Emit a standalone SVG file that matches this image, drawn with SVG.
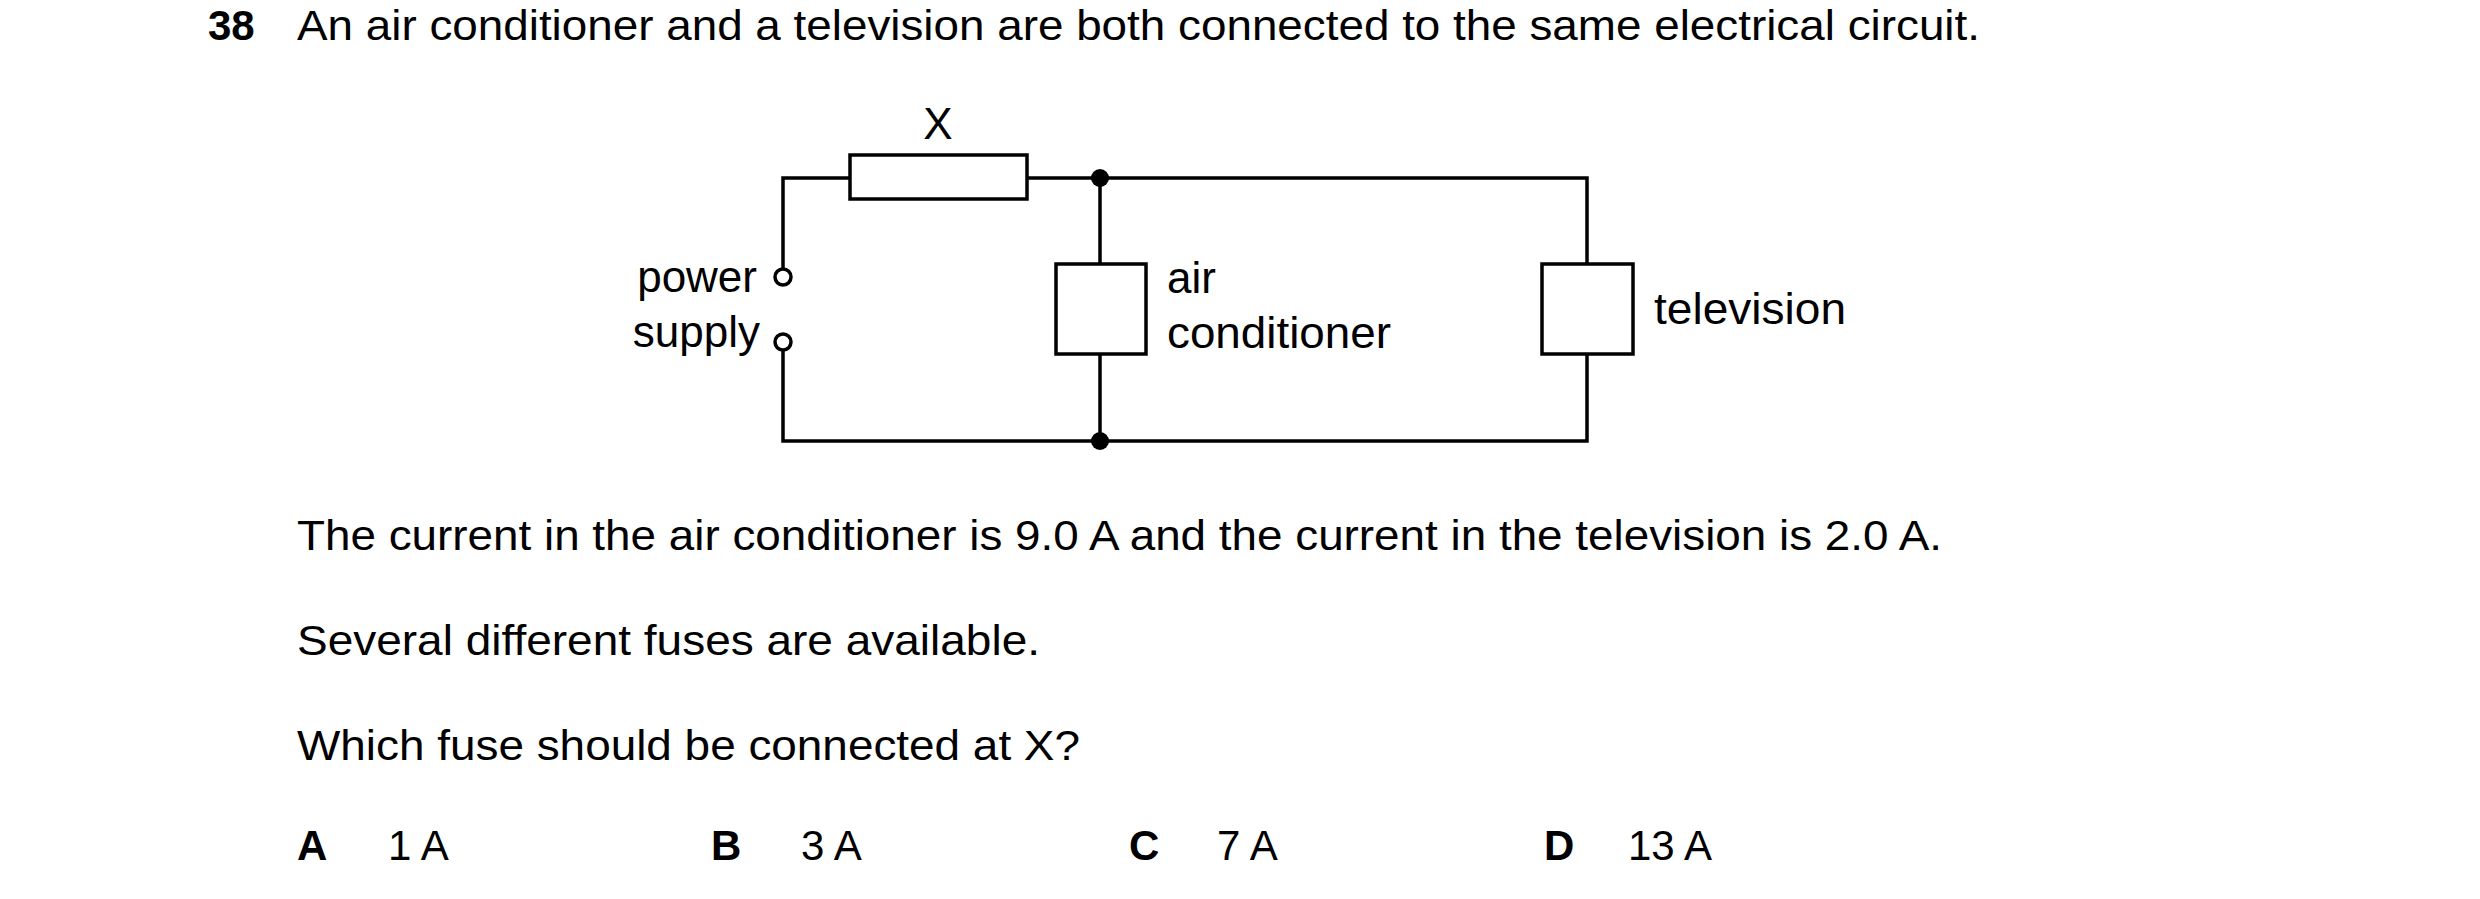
<svg xmlns="http://www.w3.org/2000/svg" width="2480" height="899" viewBox="0 0 2480 899">
<style>
text{font-family:"Liberation Sans",Arial,sans-serif;font-size:42px;fill:#000}
.l{font-size:44px}
.b{font-weight:bold}
.w{stroke:#000;stroke-width:3.5;fill:none}
.box{stroke:#000;stroke-width:3.5;fill:#fff}
</style>
<rect width="2480" height="899" fill="#fff"/>
<text class="b" x="208" y="40">38</text>
<text x="297" y="40" textLength="1683" lengthAdjust="spacingAndGlyphs">An air conditioner and a television are both connected to the same electrical circuit.</text>
<g id="connectors">
<path class="w" d="M783 268 V178 H1587 V264 M1587 354 V441 H783 V351 M1100 178 V264 M1100 354 V441"/>
</g>
<g id="fuse"><rect class="box" x="850" y="155" width="177" height="44"/><text class="l" x="938" y="139" text-anchor="middle">X</text></g>
<g id="junctions"><circle cx="1100" cy="178" r="9"/><circle cx="1100" cy="441" r="9"/></g>
<g id="supply">
<circle class="box" cx="783" cy="277" r="8" stroke-width="3"/>
<circle class="box" cx="783" cy="342" r="8" stroke-width="3"/>
<text class="l" x="757" y="292" text-anchor="end">power</text>
<text class="l" x="760" y="347" text-anchor="end">supply</text>
</g>
<g id="ac"><rect class="box" x="1056" y="264" width="90" height="90"/>
<text class="l" x="1167" y="293">air</text><text class="l" x="1167" y="348" textLength="224" lengthAdjust="spacingAndGlyphs">conditioner</text></g>
<g id="tv"><rect class="box" x="1542" y="264" width="91" height="90"/>
<text class="l" x="1654" y="324" textLength="192" lengthAdjust="spacingAndGlyphs">television</text></g>
<text x="297" y="550" textLength="1645" lengthAdjust="spacingAndGlyphs">The current in the air conditioner is 9.0 A and the current in the television is 2.0 A.</text>
<text x="297" y="655" textLength="743" lengthAdjust="spacingAndGlyphs">Several different fuses are available.</text>
<text x="297" y="760" textLength="783" lengthAdjust="spacingAndGlyphs">Which fuse should be connected at X?</text>
<text class="b" x="297" y="860">A</text><text x="388" y="860">1 A</text>
<text class="b" x="711" y="860">B</text><text x="801" y="860">3 A</text>
<text class="b" x="1129" y="860">C</text><text x="1217" y="860">7 A</text>
<text class="b" x="1544" y="860">D</text><text x="1628" y="860">13 A</text>
</svg>
